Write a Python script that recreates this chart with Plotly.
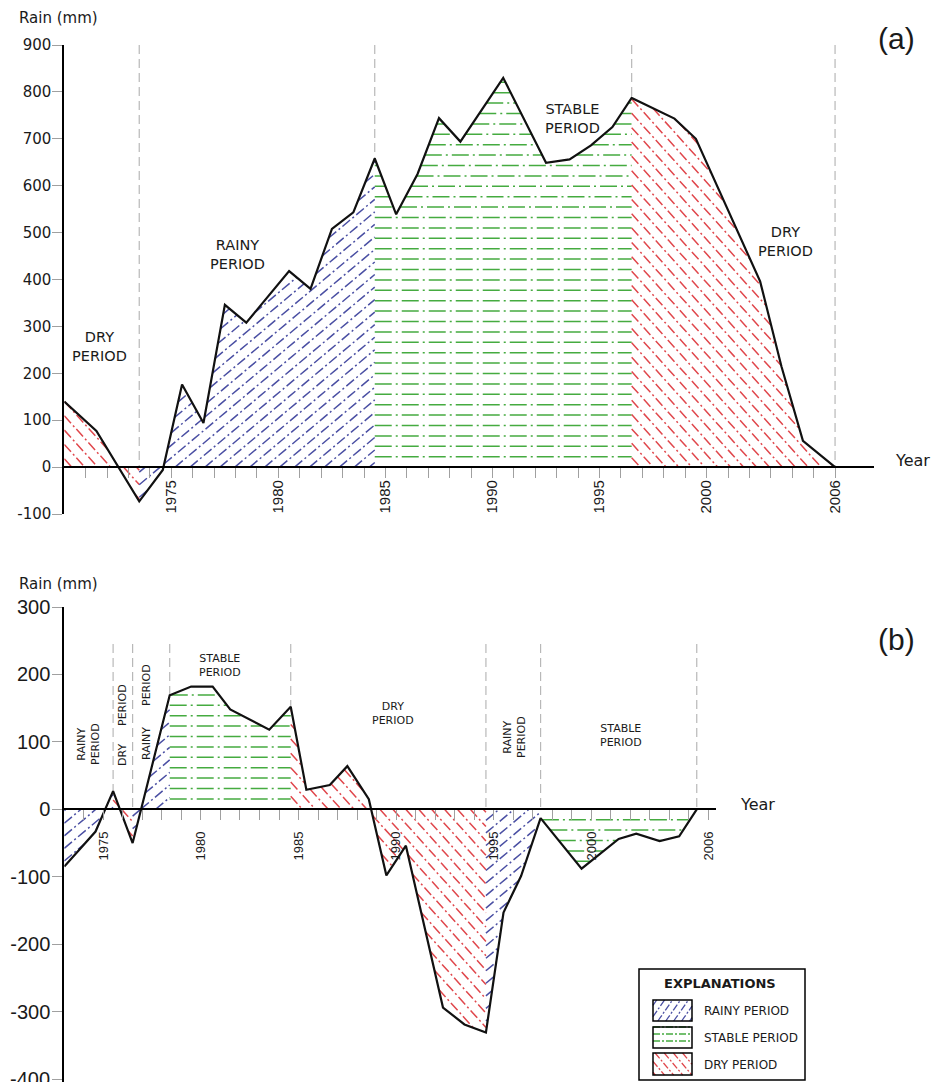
import numpy as np
import plotly.graph_objects as go

W, H = 935, 1082

# ---------------------------------------------------------------- data
# (a) cumulative rainfall departure, mm
years_a = [1970.0, 1971.5, 1973.5, 1974.6, 1975.5, 1976.5, 1977.5, 1978.5, 1980.5, 1981.5,
           1982.5, 1983.5, 1984.5, 1985.5, 1986.5, 1987.5, 1988.5, 1990.5, 1992.5, 1993.6,
           1994.6, 1995.6, 1996.5, 1998.5, 1999.5, 2002.5, 2003.5, 2004.5, 2006.0]
rain_a = [140, 77, -73, -6, 176, 94, 346, 308, 418, 380,
          508, 543, 658, 539, 625, 744, 694, 830, 649, 656,
          686, 725, 787, 743, 700, 396, 214, 56, 0]
periods_a = [(1970.0, 1973.5, "dry"), (1973.5, 1984.5, "rainy"),
             (1984.5, 1996.5, "stable"), (1996.5, 2006.0, "dry")]

# (b) rainfall departure, mm
years_b = [1973.0, 1974.6, 1975.5, 1976.5, 1978.4, 1979.5, 1980.6, 1981.5, 1983.5, 1984.6,
           1985.4, 1986.6, 1987.5, 1988.6, 1989.5, 1990.5, 1992.4, 1993.5, 1994.6, 1995.5,
           1996.4, 1997.4, 1999.5, 2000.4, 2001.4, 2002.3, 2003.5, 2004.5, 2005.4]
rain_b = [-85, -33, 27, -50, 169, 182, 182, 148, 118, 152,
          29, 36, 64, 15, -98, -54, -294, -319, -331, -153,
          -99, -13, -88, -67, -44, -36, -47, -40, 0]
periods_b = [(1973.0, 1975.5, "rainy"), (1975.5, 1976.5, "dry"), (1976.5, 1978.4, "rainy"),
             (1978.4, 1984.6, "stable"), (1984.6, 1994.6, "dry"), (1994.6, 1997.4, "rainy"),
             (1997.4, 2005.4, "stable")]

ticks_a = list(range(1971, 2007))
ticks_b = list(range(1974, 2007))
labelled_years = [1975, 1980, 1985, 1990, 1995, 2000, 2006]
yticks_a = list(range(-100, 901, 100))
yticks_b = list(range(-400, 301, 100))
legend_items = [("rainy", "RAINY PERIOD"), ("stable", "STABLE PERIOD"), ("dry", "DRY PERIOD")]

# ---------------------------------------------------------------- styles
HATCH = {
    "rainy": dict(color="#4a4fa3", angle=40, spacing=9.6, dash="10px,3px,2px,3px"),
    "stable": dict(color="#45ab40", angle=0, spacing=10.4, dash="17px,4px,2px,4px"),
    "dry": dict(color="#e0474c", angle=-48, spacing=9.6, dash="10px,3px,2px,3px"),
}
LEG_HATCH = {
    "rainy": dict(angle=55, spacing=6.5),
    "stable": dict(angle=0, spacing=7.0),
    "dry": dict(angle=-50, spacing=7.0),
}
SANS = "DejaVu Sans"
ARIAL = "Liberation Sans"
TXT = "#1a1a1a"


class Frame:
    """Pixel placement of a cartesian subplot."""

    def __init__(self, left, top, width, height, xr, yr):
        self.left, self.top, self.width, self.height = left, top, width, height
        self.x0, self.x1 = xr
        self.y0, self.y1 = yr

    def to_px(self, x, y):
        px = self.left + (x - self.x0) / (self.x1 - self.x0) * self.width
        py = self.top + (self.y1 - y) / (self.y1 - self.y0) * self.height
        return px, py

    def from_px(self, px, py):
        x = self.x0 + (px - self.left) / self.width * (self.x1 - self.x0)
        y = self.y1 - (py - self.top) / self.height * (self.y1 - self.y0)
        return x, y

    def xdomain(self):
        return [self.left / W, (self.left + self.width) / W]

    def ydomain(self):
        return [max(0.0, 1 - (self.top + self.height) / H), 1 - self.top / H]

    def zero_pos(self):
        return 1 - self.to_px(self.x0, 0)[1] / H


frame_a = Frame(64.3, 45.0, 37.8 * 21.41, 469.0, (1970.0, 2007.8), (-100, 900))
frame_b = Frame(64.3, 607.0, 33.4 * 19.52, 475.0, (1973.0, 2006.4), (-404.4, 300))
frame_leg = Frame(639.0, 969.0, 166.0, 111.0, (639.0, 805.0), (1080.0, 969.0))


def hatch_segments(poly, angle_deg, spacing, phase=0.0, skip_phase=False):
    """Clip a family of parallel lines to a polygon (even-odd rule), pixel space."""
    P = np.asarray(poly, float)
    Q = np.roll(P, -1, axis=0)
    th = np.radians(angle_deg)
    d = np.array([np.cos(th), -np.sin(th)])
    n = np.array([np.sin(th), np.cos(th)])
    sp, sq = P @ n, Q @ n
    k0 = int(np.floor((min(sp.min(), sq.min()) - phase) / spacing)) - 1
    k1 = int(np.ceil((max(sp.max(), sq.max()) - phase) / spacing)) + 1
    out = []
    for k in range(k0, k1 + 1):
        if skip_phase and k == 0:
            continue
        c = phase + k * spacing
        a, b = sp - c, sq - c
        m = (a > 0) != (b > 0)
        if m.sum() < 2:
            continue
        t = a[m] / (a[m] - b[m])
        pts = P[m] + t[:, None] * (Q[m] - P[m])
        pts = pts[np.argsort(pts @ d)]
        for i in range(0, len(pts) - 1, 2):
            out.append((pts[i], pts[i + 1]))
    return out


def seg_trace(segs, frame, color, dash, xa, ya, width=1.5):
    xs, ys = [], []
    for p, q in segs:
        if np.hypot(*(q - p)) < 1.2:
            continue
        x0, y0 = frame.from_px(*p)
        x1, y1 = frame.from_px(*q)
        xs += [x0, x1, None]
        ys += [y0, y1, None]
    return go.Scatter(x=xs, y=ys, mode="lines", line=dict(color=color, width=width, dash=dash),
                      xaxis=xa, yaxis=ya, hoverinfo="skip", showlegend=False)


def period_traces(years, rain, periods, frame, xa, ya):
    traces = []
    yr = np.asarray(years)
    zero_py = frame.to_px(frame.x0, 0)[1]
    for xs, xe, kind in periods:
        idx = np.where((yr >= xs - 1e-9) & (yr <= xe + 1e-9))[0]
        poly = [frame.to_px(years[i], rain[i]) for i in idx]
        poly += [frame.to_px(xe, 0), frame.to_px(xs, 0)]
        st = HATCH[kind]
        horiz = st["angle"] == 0
        segs = hatch_segments(poly, st["angle"], st["spacing"],
                              phase=zero_py if horiz else 0.0, skip_phase=horiz)
        traces.append(seg_trace(segs, frame, st["color"], st["dash"], xa, ya))
    return traces


def divider_trace(years, rain, periods, top, xa, ya):
    xs, ys = [], []
    for _, xe, _ in periods:
        v = rain[years.index(xe)]
        xs += [xe, xe, None]
        ys += [top, max(v, 0), None]
    return go.Scatter(x=xs, y=ys, mode="lines",
                      line=dict(color="#b8b8b8", width=1.2, dash="9px,5px"),
                      xaxis=xa, yaxis=ya, hoverinfo="skip", showlegend=False)


def curve_trace(years, rain, xa, ya):
    return go.Scatter(x=years, y=rain, mode="lines", line=dict(color="#111111", width=2.2),
                      xaxis=xa, yaxis=ya, hoverinfo="skip", showlegend=False)


fig = go.Figure()
for t in period_traces(years_a, rain_a, periods_a, frame_a, "x", "y"):
    fig.add_trace(t)
fig.add_trace(divider_trace(years_a, rain_a, periods_a, 900, "x", "y"))
fig.add_trace(curve_trace(years_a, rain_a, "x", "y"))

for t in period_traces(years_b, rain_b, periods_b, frame_b, "x2", "y2"):
    fig.add_trace(t)
fig.add_trace(divider_trace(years_b, rain_b, periods_b, 245, "x2", "y2"))
fig.add_trace(curve_trace(years_b, rain_b, "x2", "y2"))

# legend swatches (drawn in pixel-mapped axes)
swatch_x = (653.0, 692.0)
swatch_y = [(1000.0, 1021.0), (1027.0, 1048.0), (1053.0, 1075.0)]
shapes = [dict(type="rect", xref="paper", yref="paper",
               x0=639 / W, x1=805 / W, y0=1 - 1080 / H, y1=1 - 969 / H,
               line=dict(color="black", width=1.5), fillcolor="rgba(0,0,0,0)")]
annotations = []


def ann(px, py, text, size, family=SANS, angle=0, xanchor="center", bold=False):
    if bold:
        text = "<b>" + text + "</b>"
    annotations.append(dict(x=px / W, y=1 - py / H, xref="paper", yref="paper", text=text,
                            showarrow=False, xanchor=xanchor, yanchor="middle", textangle=angle,
                            font=dict(family=family, size=size, color=TXT)))


for (kind, name), (ya0, ya1) in zip(legend_items, swatch_y):
    poly = [(swatch_x[0], ya0), (swatch_x[1], ya0), (swatch_x[1], ya1), (swatch_x[0], ya1)]
    lh = LEG_HATCH[kind]
    horiz = lh["angle"] == 0
    segs = hatch_segments(poly, lh["angle"], lh["spacing"],
                          phase=ya1 if horiz else 0.0, skip_phase=horiz)
    fig.add_trace(seg_trace(segs, frame_leg, HATCH[kind]["color"], "7px,2px,2px,2px",
                            "x3", "y3", width=1.3))
    shapes.append(dict(type="rect", xref="paper", yref="paper",
                       x0=swatch_x[0] / W, x1=swatch_x[1] / W, y0=1 - ya1 / H, y1=1 - ya0 / H,
                       line=dict(color="black", width=1.5), fillcolor="rgba(0,0,0,0)"))
    ann(702, (ya0 + ya1) / 2 + 0.5, name, 12, xanchor="left")

ann(720, 983, "EXPLANATIONS", 13, bold=True)

# axis titles and panel tags
ann(17, 18, "Rain (mm)", 15, xanchor="left")
ann(17, 584, "Rain (mm)", 15, xanchor="left")
ann(893, 461, "Year", 16, xanchor="left")
ann(738, 804, "Year", 16, xanchor="left")
ann(896, 38, "(a)", 30, family=ARIAL)
ann(896, 639, "(b)", 30, family=ARIAL)

# bottom tick label of panel (b), which runs off the lower page edge
annotations.append(dict(x=52 / W, y=yticks_b[0], xref="paper", yref="y2",
                        text=str(yticks_b[0]), showarrow=False, xanchor="right",
                        yanchor="middle", font=dict(family=ARIAL, size=20, color=TXT)))

# period labels, panel (a)
for px, py, txt in [(99, 346, "DRY<br>PERIOD"), (237, 255, "RAINY<br>PERIOD"),
                    (572, 119, "STABLE<br>PERIOD"), (785, 241, "DRY<br>PERIOD")]:
    ann(px, py, txt, 14.5)

# period labels, panel (b)
for px, py, txt in [(220, 665, "STABLE<br>PERIOD"), (393, 713, "DRY<br>PERIOD"),
                    (621, 735, "STABLE<br>PERIOD")]:
    ann(px, py, txt, 11)
for px, py, txt in [(88, 744, "RAINY<br>PERIOD"), (514, 737, "RAINY<br>PERIOD"),
                    (122, 755, "DRY"), (122, 705, "PERIOD"),
                    (146, 744, "RAINY"), (146, 685, "PERIOD")]:
    ann(px, py, txt, 11, angle=-90)


def x_axis(frame, tickvals, size, standoff):
    return dict(domain=frame.xdomain(), range=[frame.x0, frame.x1], anchor="free",
                position=frame.zero_pos(), showline=True, linecolor="black", linewidth=2,
                ticks="outside", ticklen=10, tickwidth=1.2, tickcolor="#a0a0a0",
                tickmode="array", tickvals=tickvals,
                ticktext=[str(v) if v in labelled_years else "" for v in tickvals],
                tickangle=-90, tickfont=dict(family=ARIAL, size=size, color=TXT),
                ticklabelstandoff=standoff, showgrid=False, zeroline=False,
                automargin=False, fixedrange=True)


def y_axis(frame, anchor, tickvals, ticktext, font, standoff):
    return dict(domain=frame.ydomain(), range=[frame.y0, frame.y1], anchor=anchor,
                showline=True, linecolor="black", linewidth=2, ticks="outside", ticklen=10,
                tickwidth=1.2, tickcolor="#a0a0a0", tickmode="array", tickvals=tickvals,
                ticktext=ticktext, tickfont=font, ticklabelstandoff=standoff,
                showgrid=False, zeroline=False, automargin=False, fixedrange=True)


fig.update_layout(
    width=W, height=H, template="none", showlegend=False,
    margin=dict(l=0, r=0, t=0, b=0, pad=0),
    paper_bgcolor="white", plot_bgcolor="rgba(0,0,0,0)",
    font=dict(family=SANS, color=TXT),
    xaxis=x_axis(frame_a, ticks_a, 15, -4),
    yaxis=y_axis(frame_a, "x", yticks_a, [str(v) for v in yticks_a],
                 dict(family=SANS, size=15, color=TXT), -2),
    xaxis2=x_axis(frame_b, ticks_b, 13, 6),
    yaxis2=y_axis(frame_b, "x2", yticks_b, [""] + [str(v) for v in yticks_b[1:]],
                  dict(family=ARIAL, size=20, color=TXT), -2),
    xaxis3=dict(domain=frame_leg.xdomain(), range=[frame_leg.x0, frame_leg.x1], anchor="y3",
                visible=False, fixedrange=True),
    yaxis3=dict(domain=frame_leg.ydomain(), range=[frame_leg.y0, frame_leg.y1], anchor="x3",
                visible=False, fixedrange=True),
    shapes=shapes, annotations=annotations,
)

fig.write_html("out.html")
